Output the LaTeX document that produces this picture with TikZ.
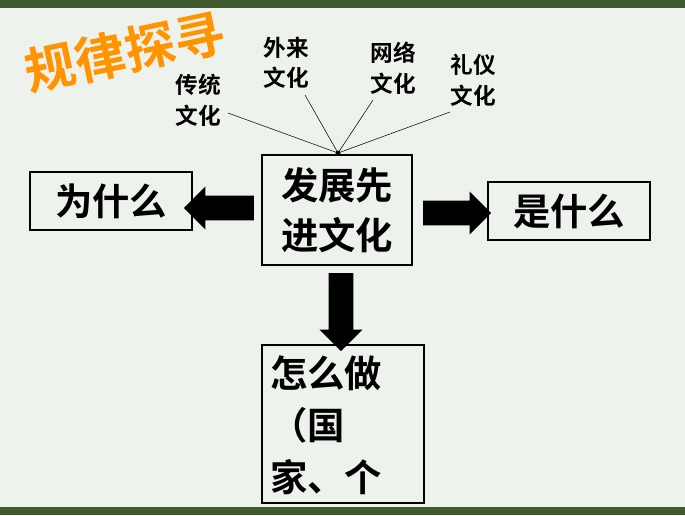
\documentclass[tikz,border=0pt]{standalone}
\usepackage{fontspec}
\newfontfamily\cjk{Noto Sans CJK SC}[BoldFont={* Bold}]
\usetikzlibrary{shapes.arrows}
\definecolor{bg}{HTML}{EEF2EC}
\definecolor{bar}{HTML}{3F5A2E}
\begin{document}
\begin{tikzpicture}[x=0.75pt,y=-0.75pt,
  box/.style={draw=black,line width=1.5pt,fill=bg},
  big/.style={font=\cjk\bfseries\fontsize{28}{37}\selectfont,align=left},
  small/.style={font=\cjk\bfseries\fontsize{17}{23}\selectfont,align=left},
  blk/.style={single arrow,draw=none,fill=black,minimum height=#1,single arrow head extend=7pt,inner sep=9pt}]
\fill[bg] (0,0) rectangle (685,515);
\useasboundingbox (0,0) rectangle (685,515);
\fill[bar] (0,0) rectangle (685,8);
% title
\node[rotate=12,font=\cjk\bfseries\fontsize{38}{38}\selectfont,text=orange!85!yellow,
  preaction={}] (title) at (125,52) {规律探寻};
% boxes
\node[box,minimum width=150*0.75pt,minimum height=110*0.75pt,big] (c) at (337,210) {发展先\\进文化};
\node[box,minimum width=162*0.75pt,minimum height=58*0.75pt,big] (l) at (111,201) {为什么};
\node[box,minimum width=162*0.75pt,minimum height=58*0.75pt,big] (r) at (569,211) {是什么};
\draw[box] (262,345) rectangle (424,503);
\begin{scope}
\clip (262,345) rectangle (685,507);
\node[big,anchor=north west,inner sep=0,font=\cjk\bfseries\fontsize{28}{39}\selectfont] (b) at (270,355) {怎么做\\（国\\家、个\\人）};
\end{scope}
\fill[bar] (0,507) rectangle (685,515);
% arrows
\node[blk=70*0.75pt,shape border rotate=180] (al) at (225,208) {};
\node[blk=68*0.75pt] (ar) at (451,213) {};
\node[blk=78*0.75pt,shape border rotate=270] (ad) at (341,306) {};
% labels
\coordinate (hub) at (338,153);
\node[small] (t1) at (198,100) {传统\\文化};
\node[small] (t2) at (286,63) {外来\\文化};
\node[small] (t3) at (393,68) {网络\\文化};
\node[small] (t4) at (473,80) {礼仪\\文化};
\draw (228,113) -- (hub);
\draw (305,95) -- (hub);
\draw (373,100) -- (hub);
\draw (450,112) -- (hub);
\fill (hub) circle (2.5);
\end{tikzpicture}
\end{document}
